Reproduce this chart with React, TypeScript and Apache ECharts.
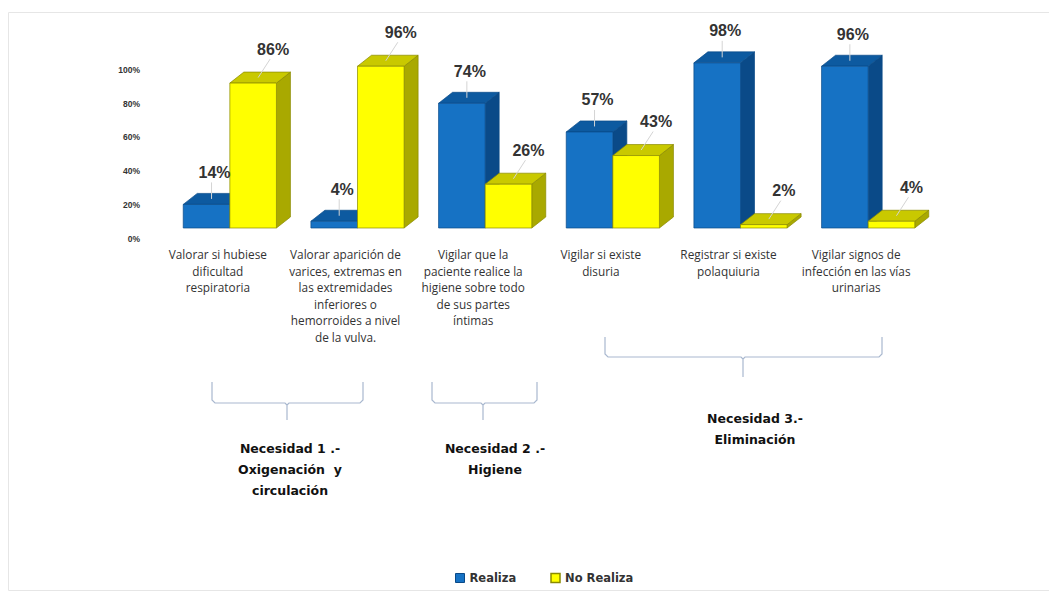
import React, { useEffect, useRef } from 'react';
import * as echarts from 'echarts';

const categories = [
  'Valorar si hubiese\ndificultad\nrespiratoria',
  'Valorar aparición de\nvarices, extremas en\nlas extremidades\ninferiores o\nhemorroides a nivel\nde la vulva.',
  'Vigilar que la\npaciente realice la\nhigiene sobre todo\nde sus partes\níntimas',
  'Vigilar si existe\ndisuria',
  'Registrar si existe\npolaquiuria',
  'Vigilar signos de\ninfección en las vías\nurinarias',
];
const realiza = [14, 4, 74, 57, 98, 96];
const noRealiza = [86, 96, 26, 43, 2, 4];
const seriesNames = ['Realiza', 'No Realiza'];
const groupLabels = [
  'Necesidad 1 .-\nOxigenación  y\ncirculación',
  'Necesidad 2 .-\nHigiene',
  'Necesidad 3.-\nEliminación',
];

const PALETTE = [
  { front: '#1672c4', top: '#0d5aa0', side: '#0a4a88', stroke: '#0a4a88' },
  { front: '#ffff00', top: '#c9c900', side: '#a9a900', stroke: '#8a8a00' },
];
const DX = 14;
const DY = -11;

function makeRender(side: number) {
  const c = PALETTE[side];
  return (params: any, api: any) => {
    const idx = api.value(0);
    const v = api.value(1);
    const p0 = api.coord([idx, 0]);
    const p1 = api.coord([idx, v]);
    const band = api.size([1, 0])[0];
    const w = band * 0.365;
    const x0 = side === 0 ? p0[0] - w : p0[0];
    const x1 = x0 + w;
    const yb = p0[1];
    const yt = p1[1];
    const cx = (x0 + x1) / 2;
    const lx = side === 0 ? cx + 8 : cx + 20;
    const ly = side === 0 ? yt - 32 : yt - 34;
    return {
      type: 'group',
      children: [
        {
          type: 'polygon',
          shape: { points: [[x1, yb], [x1 + DX, yb + DY], [x1 + DX, yt + DY], [x1, yt]] },
          style: { fill: c.side, stroke: c.stroke, lineWidth: 0.7 },
        },
        {
          type: 'polygon',
          shape: { points: [[x0, yt], [x0 + DX, yt + DY], [x1 + DX, yt + DY], [x1, yt]] },
          style: { fill: c.top, stroke: c.stroke, lineWidth: 0.7 },
        },
        {
          type: 'rect',
          shape: { x: x0, y: yt, width: w, height: yb - yt },
          style: { fill: c.front, stroke: c.stroke, lineWidth: 0.7 },
        },
        {
          type: 'line',
          z2: 90,
          shape: { x1: lx - 3, y1: ly + 10, x2: cx + DX / 2 - 2, y2: yt + DY / 2 },
          style: { stroke: '#d4d4d4', lineWidth: 1 },
        },
        {
          type: 'text',
          z2: 100,
          x: lx,
          y: ly,
          style: {
            text: v + '%',
            fill: '#333333',
            font: 'bold 16px "Liberation Sans", Arial, sans-serif',
            align: 'center',
            verticalAlign: 'middle',
          },
        },
      ],
    };
  };
}

function bracket(x1: number, x2: number, xc: number, yTop: number, yH: number, yTip: number) {
  return {
    type: 'polyline',
    shape: {
      points: [
        [x1, yTop], [x1, yH - 3], [x1 + 3, yH], [xc - 2, yH], [xc, yH + 2], [xc, yTip],
        [xc, yH + 2], [xc + 2, yH], [x2 - 3, yH], [x2, yH - 3], [x2, yTop],
      ],
    },
    style: { stroke: '#a9b8cf', lineWidth: 1.2, fill: 'none' },
  };
}

function groupText(x: number, y: number, text: string) {
  return {
    type: 'text',
    x,
    y,
    style: {
      text,
      fill: '#111111',
      font: 'bold 12.5px "DejaVu Sans", sans-serif',
      align: 'center',
      verticalAlign: 'top',
      lineHeight: 21,
    },
  };
}

export default function App() {
  const ref = useRef<HTMLDivElement>(null);
  useEffect(() => {
    const chart = echarts.init(ref.current!, null, { renderer: 'svg' });
    const yLabelStyle = {
      formatter: '{value}%',
      fontFamily: '"Liberation Sans", Arial, sans-serif',
      fontSize: 8.5,
      fontWeight: 'bold',
      color: '#333',
      margin: 26,
    };
    chart.setOption({
      animation: false,
      backgroundColor: '#ffffff',
      grid: [
        { left: 166, right: 117, top: 59.5, bottom: 369, containLabel: false },
        { left: 166, right: 117, top: 70, bottom: 358.5, containLabel: false },
      ],
      legend: {
        left: 450,
        top: 567,
        itemWidth: 9,
        itemHeight: 9,
        itemGap: 34,
        icon: 'rect',
        textStyle: { fontFamily: '"DejaVu Sans", sans-serif', fontSize: 11.5, fontWeight: 'bold', color: '#333' },
        data: [
          { name: seriesNames[0], itemStyle: { color: PALETTE[0].front, borderColor: PALETTE[0].stroke, borderWidth: 1 } },
          { name: seriesNames[1], itemStyle: { color: PALETTE[1].front, borderColor: PALETTE[1].stroke, borderWidth: 1.5 } },
        ],
      },
      xAxis: [
        {
          type: 'category',
          gridIndex: 0,
          data: categories,
          axisLine: { show: false },
          axisTick: { show: false },
          axisLabel: {
            interval: 0,
            fontFamily: '"Open Sans", sans-serif',
            fontSize: 11.8,
            color: '#333333',
            lineHeight: 16.5,
            margin: 18,
            padding: [0, 24, 0, 0],
          },
        },
        {
          type: 'category',
          gridIndex: 1,
          data: categories,
          show: false,
        },
      ],
      yAxis: [
        {
          type: 'value',
          gridIndex: 0,
          min: 0,
          max: 100,
          interval: 20,
          splitLine: { show: false },
          axisLine: { show: false },
          axisTick: { show: false },
          axisLabel: { show: false },
        },
        {
          type: 'value',
          gridIndex: 1,
          min: 0,
          max: 100,
          interval: 20,
          splitLine: { show: false },
          axisLine: { show: false },
          axisTick: { show: false },
          axisLabel: yLabelStyle,
        },
      ],
      series: [
        {
          type: 'custom',
          name: seriesNames[0],
          xAxisIndex: 0,
          yAxisIndex: 0,
          itemStyle: { color: PALETTE[0].front },
          renderItem: makeRender(0),
          data: realiza.map((v, i) => [i, v]),
          encode: { x: 0, y: 1 },
        },
        {
          type: 'custom',
          name: seriesNames[1],
          xAxisIndex: 0,
          yAxisIndex: 0,
          itemStyle: { color: PALETTE[1].front },
          renderItem: makeRender(1),
          data: noRealiza.map((v, i) => [i, v]),
          encode: { x: 0, y: 1 },
        },
      ],
      graphic: [
        {
          type: 'rect',
          shape: { x: 8.5, y: 12.5, width: 1045, height: 578 },
          style: { fill: 'none', stroke: '#e6e6e6', lineWidth: 1 },
          silent: true,
        },
        bracket(212, 363, 287, 382, 403, 420),
        bracket(432, 537, 483, 382, 403, 420),
        bracket(605, 882, 743, 337, 357, 377),
        groupText(290, 438, groupLabels[0]),
        groupText(495, 438, groupLabels[1]),
        groupText(755, 408, groupLabels[2]),
      ],
    });
    return () => chart.dispose();
  }, []);
  return (
    <div
      ref={ref}
      style={{ position: 'absolute', left: 0, top: 0, width: 1049, height: 597 }}
    />
  );
}
